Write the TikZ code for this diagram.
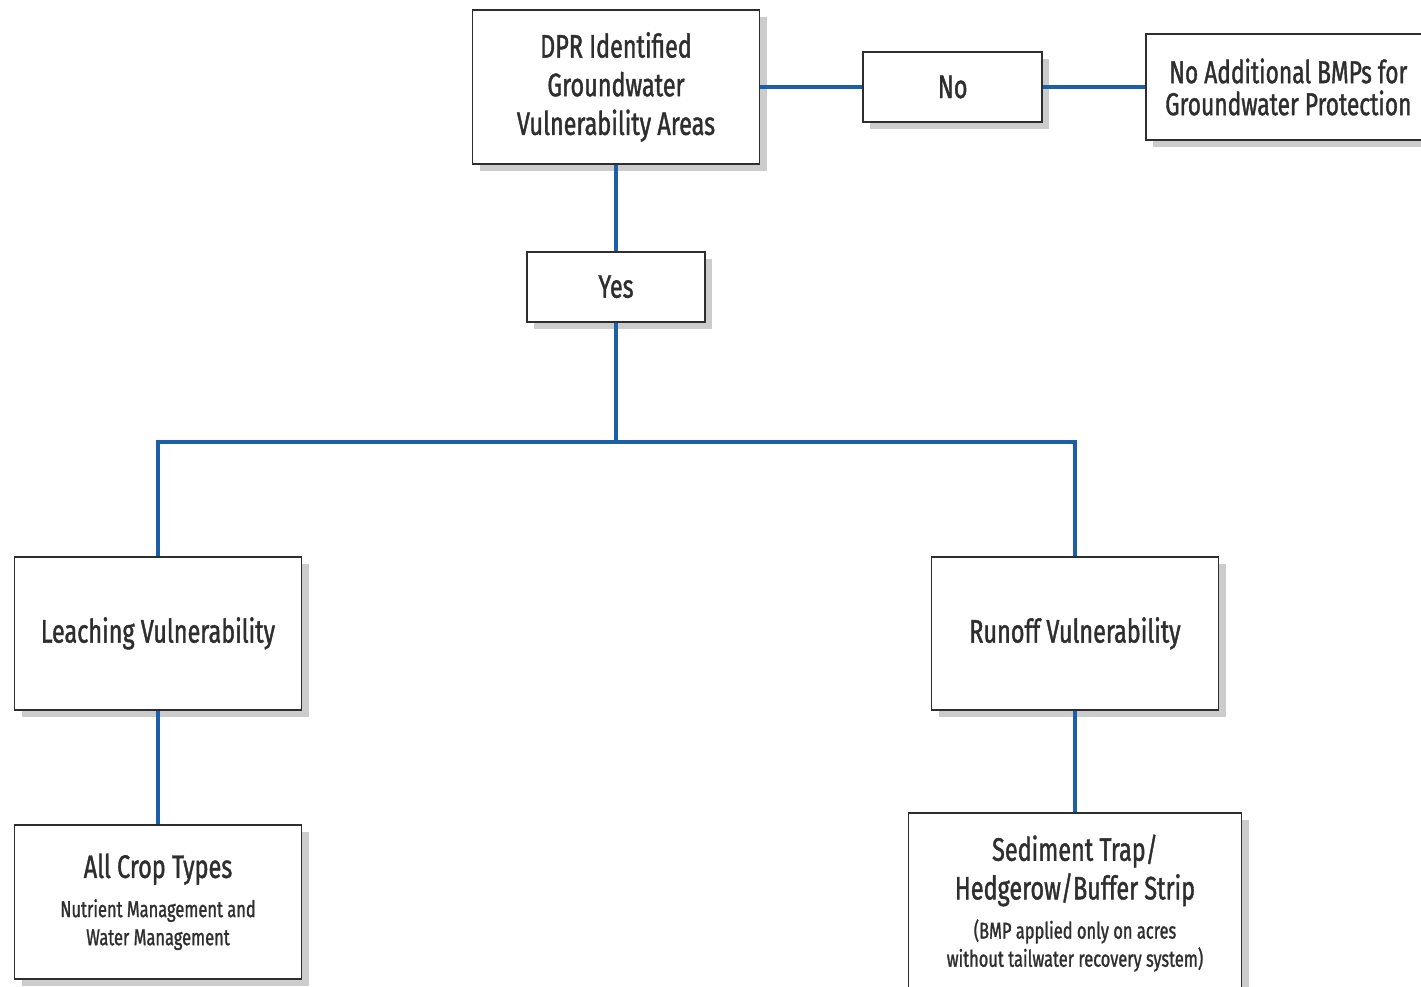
\documentclass[tikz,border=0pt]{standalone}
\usepackage{fontspec}
\setmainfont{Fira Sans}[FakeStretch=0.72, FakeBold=1.2]
\usepackage{tikz}
\usetikzlibrary{positioning,shadows}
\definecolor{linkblue}{HTML}{1B5FA8}
\definecolor{inkgray}{HTML}{2E2E2E}
\newcommand{\subline}{\fontsize{13}{16}\selectfont}

\begin{document}
\begin{tikzpicture}[
    node distance=2cm,
    font=\fontsize{18.5}{22}\selectfont,
    box/.style={
		rectangle,
		draw=inkgray,
		line width=1.1pt,
		fill=white,
		text=inkgray,
		align=center,
		inner sep=2pt,
		drop shadow={shadow xshift=4pt, shadow yshift=-4pt, opacity=0.2, fill=black}
	},
	bigbox/.style={
		box,
		minimum width=5.74cm,
		minimum height=3.07cm
	},
	answer/.style={
		box,
		minimum width=3.57cm,
		minimum height=1.4cm
	},
	link/.style={
		draw=linkblue,
		line width=2.2pt
	}
  ]
    \useasboundingbox (0,0) rectangle (28.42,-19.74);
    % We start by placing the blocks

  \node [bigbox] (dpr) at (12.32,-1.74)
 {DPR Identified\\Groundwater\\Vulnerability Areas};

  \node [answer, right=2.04cm of dpr] (no) {No};

  \node [box, minimum width=5.7cm, minimum height=2.12cm, right=2.04cm of no,
         font=\fontsize{18}{18.2}\selectfont] (nobmp)
 {No Additional BMPs for\\Groundwater Protection};

  \node [answer, below=1.72cm of dpr] (yes) {Yes};

  \coordinate [below=2.38cm of yes] (fork);

  \node [bigbox, below=4.66cm of yes, xshift=-9.16cm] (leach) {Leaching Vulnerability};

  \node [bigbox, below=4.66cm of yes, xshift=9.18cm] (runoff) {Runoff Vulnerability};

  \node [bigbox, below=2.26cm of leach] (crops)
 {All Crop Types\\[0.3pt]\subline Nutrient Management and\\[-6pt]\subline Water Management};

  \node [box, minimum width=6.66cm, minimum height=3.6cm, below=2.02cm of runoff] (trap)
 {Sediment Trap/\\Hedgerow/Buffer Strip\\[0.3pt]\subline (BMP applied only on acres\\[-6pt]\subline without tailwater recovery system)};

 \draw [link] (dpr) -- (no);
 \draw [link] (no) -- (nobmp);
 \draw [link] (dpr) -- (yes);
 \draw [link] (yes) -- (fork);
 \draw [link] (fork) -| (leach);
 \draw [link] (fork) -| (runoff);
 \draw [link] (leach) -- (crops);
 \draw [link] (runoff) -- (trap);

\end{tikzpicture}
\end{document}
